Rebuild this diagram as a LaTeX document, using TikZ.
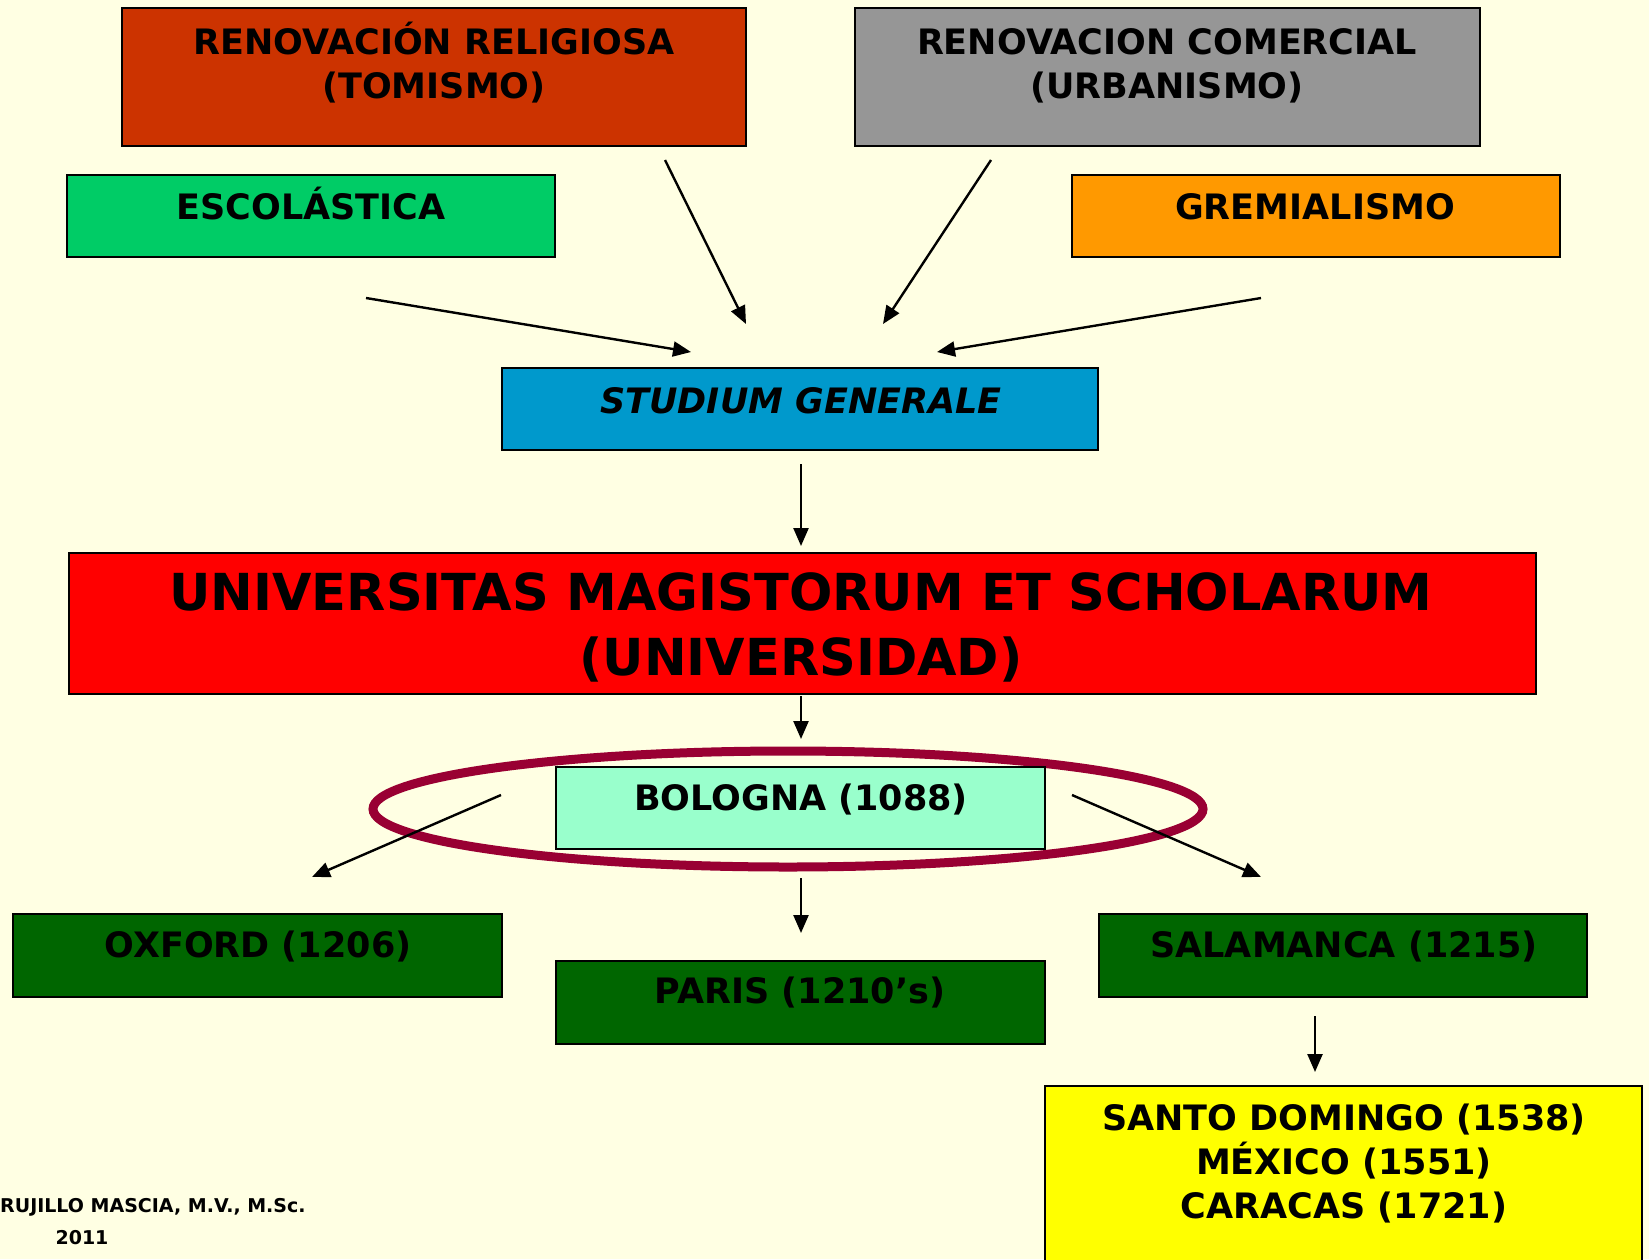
\documentclass[tikz,border=0pt]{standalone}
\usepackage{fontspec}
\setmainfont{DejaVu Sans}
\newfontfamily\creditfont{DejaVu Sans}
\usetikzlibrary{arrows.meta,positioning,calc}

\definecolor{bgcream}{HTML}{FFFFE3}
\definecolor{religcol}{HTML}{CC3300}
\definecolor{comercol}{HTML}{969696}
\definecolor{escolcol}{HTML}{00CC66}
\definecolor{gremicol}{HTML}{FF9900}
\definecolor{studcol}{HTML}{0099CC}
\definecolor{univcol}{HTML}{FF0000}
\definecolor{bolocol}{HTML}{99FFCC}
\definecolor{citycol}{HTML}{006600}
\definecolor{newcol}{HTML}{FFFF00}
\definecolor{ringcol}{HTML}{990033}

\tikzset{
  box/.style={draw=black, line width=2pt, inner sep=0pt},
  boxtext/.style={font=\bfseries\fontsize{35}{44}\selectfont, align=center, inner sep=0pt},
  bigtext/.style={font=\bfseries\fontsize{51}{65}\selectfont, align=center, inner sep=0pt},
  arr/.style={line width=2.4pt, -{Triangle[length=18pt,width=15pt]}},
}

\begin{document}
\begin{tikzpicture}[x=1pt,y=-1pt]
    \useasboundingbox (0,0) rectangle (1649,1259);
    \fill[bgcream] (0,0) rectangle (1649,1259);

    % Top row
    \node[box, fill=religcol, minimum width=624pt, minimum height=138pt] (religiosa) at (434,77) {};
    \node[boxtext] (religiosa-t) at (434,63) {RENOVACIÓN RELIGIOSA\\(TOMISMO)};
    \node[box, fill=comercol, minimum width=625pt, minimum height=138pt] (comercial) at (1167,77) {};
    \node[boxtext] (comercial-t) at (1167,66) {RENOVACION COMERCIAL\\(URBANISMO)};

    % Second row
    \node[box, fill=escolcol, minimum width=488pt, minimum height=82pt] (escolastica) at (311,216) {};
    \node[boxtext] (escolastica-t) at (311,204) {ESCOLÁSTICA};
    \node[box, fill=gremicol, minimum width=488pt, minimum height=82pt] (gremialismo) at (1316,216) {};
    \node[boxtext] (gremialismo-t) at (1315,207) {GREMIALISMO};

    % Studium generale
    \node[box, fill=studcol, minimum width=596pt, minimum height=82pt] (studium) at (800,409) {};
    \node[boxtext, font=\bfseries\itshape\fontsize{35}{44}\selectfont] (studium-t) at (801,401) {STUDIUM GENERALE};

    % Universitas
    \node[box, fill=univcol, minimum width=1467pt, minimum height=141pt] (universitas) at (802,623) {};
    \node[bigtext] (universitas-t) at (801,627) {UNIVERSITAS MAGISTORUM ET SCHOLARUM\\(UNIVERSIDAD)};

    % Bologna and its ring
    \draw[ringcol, line width=9pt] (788,809) ellipse (415pt and 58pt);
    \node[box, fill=bolocol, minimum width=489pt, minimum height=82pt] (bologna) at (800,808) {};
    \node[boxtext] (bologna-t) at (801,800) {BOLOGNA (1088)};

    % Daughter universities
    \node[box, fill=citycol, minimum width=489pt, minimum height=83pt] (oxford) at (257,955) {};
    \node[boxtext] (oxford-t) at (258,947) {OXFORD (1206)};
    \node[box, fill=citycol, minimum width=489pt, minimum height=83pt] (paris) at (800,1002) {};
    \node[boxtext] (paris-t) at (800,993) {PARIS (1210's)};
    \node[box, fill=citycol, minimum width=488pt, minimum height=83pt] (salamanca) at (1343,955) {};
    \node[boxtext] (salamanca-t) at (1344,947) {SALAMANCA (1215)};

    % New world
    \node[box, fill=newcol, minimum width=597pt, minimum height=200pt] (newworld) at (1343,1186) {};
    \node[boxtext] (newworld-t) at (1344,1164) {SANTO DOMINGO (1538)\\MÉXICO (1551)\\CARACAS (1721)};

    % Arrow ends
    \coordinate (a1s) at (665,160);  \coordinate (a1e) at (746,324);
    \coordinate (a2s) at (991,160);  \coordinate (a2e) at (883,324);
    \coordinate (a3s) at (366,298);  \coordinate (a3e) at (691,352);
    \coordinate (a4s) at (1261,298); \coordinate (a4e) at (937,352);
    \coordinate (a5s) at (801,464);  \coordinate (a5e) at (801,546);
    \coordinate (a6s) at (801,696);  \coordinate (a6e) at (801,739);
    \coordinate (a7s) at (501,795);  \coordinate (a7e) at (312,877);
    \coordinate (a8s) at (1072,795); \coordinate (a8e) at (1261,877);
    \coordinate (a9s) at (801,878);  \coordinate (a9e) at (801,933);
    \coordinate (a10s) at (1315,1016); \coordinate (a10e) at (1315,1072);

    \foreach \n in {1,...,10}
        \draw[arr] (a\n s) -- (a\n e);

    % Credit
    \node[font=\creditfont\bfseries\fontsize{19}{24}\selectfont, anchor=west, inner sep=0pt] (credit) at (0,1207) {RUJILLO MASCIA, M.V., M.Sc.};
    \node[font=\creditfont\bfseries\fontsize{19}{24}\selectfont, inner sep=0pt] (year) at (82,1238) {2011};
\end{tikzpicture}
\end{document}
